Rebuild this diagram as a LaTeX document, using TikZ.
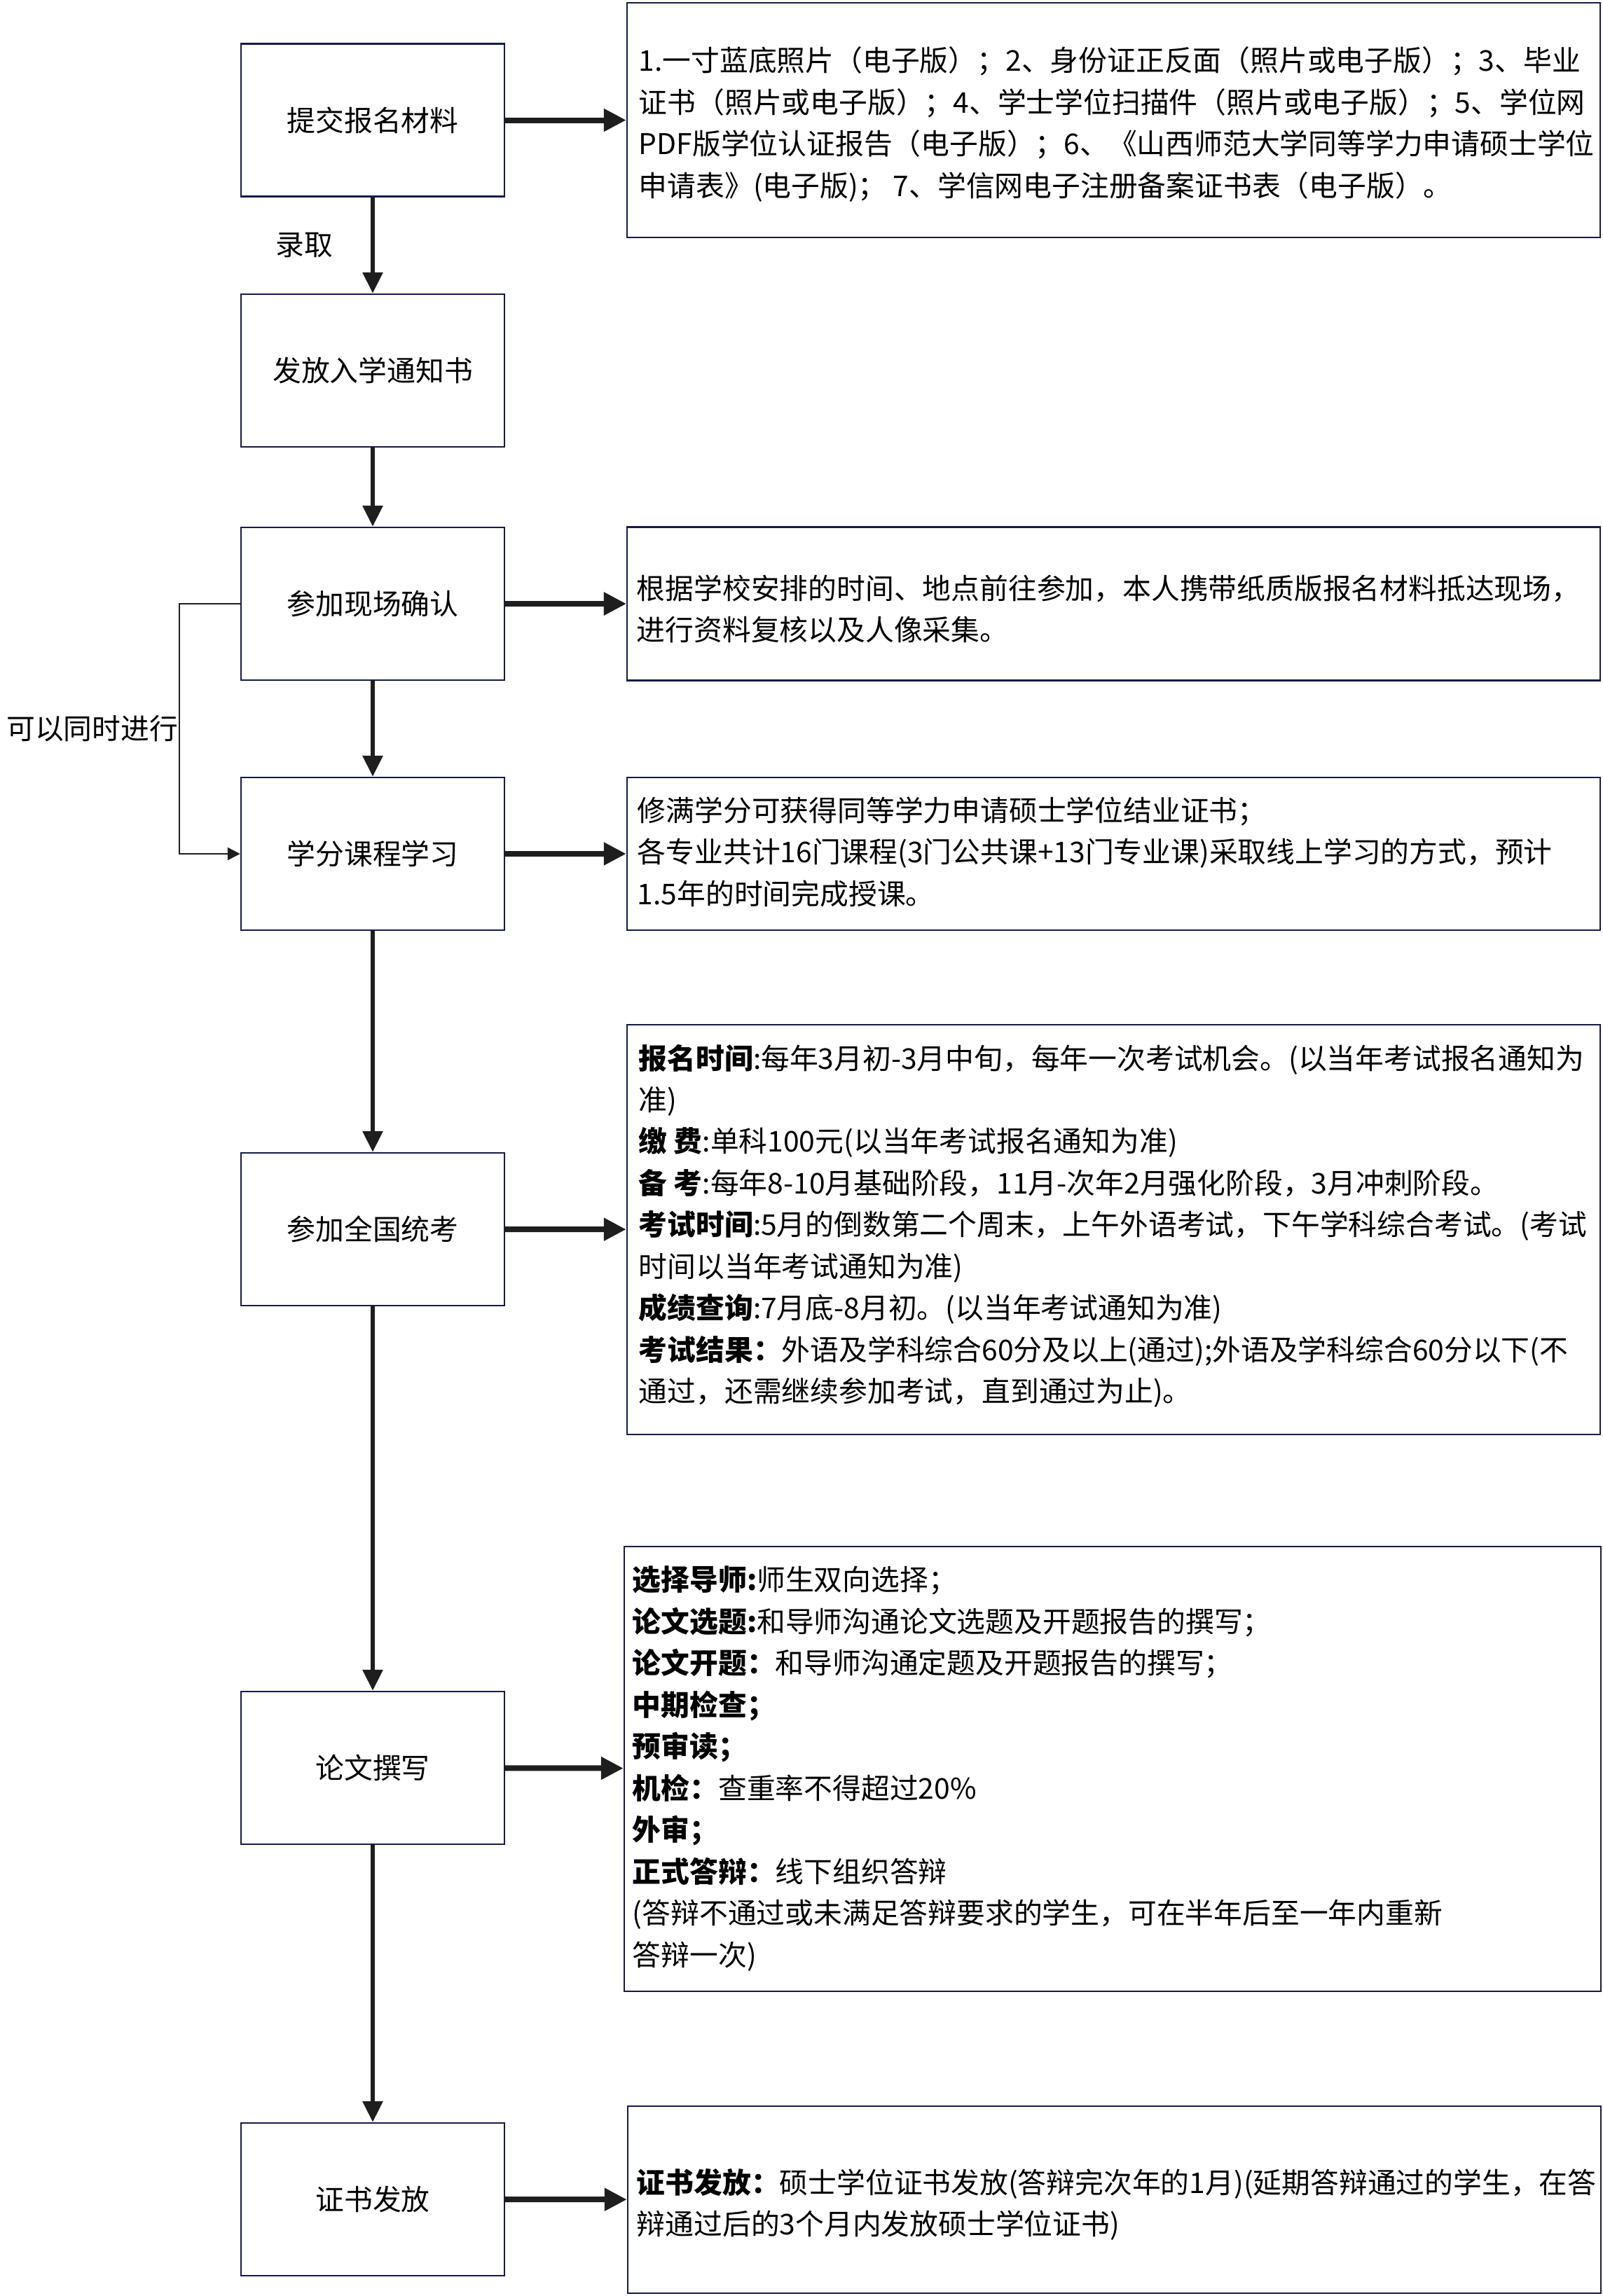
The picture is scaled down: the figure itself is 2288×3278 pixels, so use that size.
\documentclass[tikz,border=0pt]{standalone}
\usepackage{fontspec}
\setmainfont{Noto Sans CJK SC}
\usetikzlibrary{arrows.meta}
\definecolor{boxline}{RGB}{22,26,70}
\definecolor{arrowc}{RGB}{30,30,30}
\begin{document}
\begin{tikzpicture}[x=0.25pt,y=-0.25pt,
  lbox/.style={draw=boxline, line width=0.6pt, minimum width=94pt, minimum height=54.5pt, inner sep=0pt, font=\fontsize{10.2pt}{14.875pt}\selectfont},
  rbox/.style={draw=boxline, line width=0.6pt, inner sep=0pt},
  rtext/.style={anchor=north west, inner sep=0pt, align=left, font=\fontsize{10.2pt}{14.875pt}\selectfont},
  down/.style={draw=arrowc, line width=1.5pt, -{Triangle[length=7.5pt,width=7pt]}},
  side/.style={draw=arrowc, line width=2pt, -{Triangle[length=8pt,width=7.75pt]}},
  thin/.style={draw=arrowc, line width=0.6pt, -{Triangle[length=4.5pt,width=4.5pt]}},
  lbl/.style={inner sep=0pt, font=\fontsize{10.2pt}{14.875pt}\selectfont}
]
\useasboundingbox (0,0) rectangle (2288,3278);

% left boxes
\node[lbox] (b1) at (532,171.5) {提交报名材料};
\node[lbox] (b2) at (532,529) {发放入学通知书};
\node[lbox] (b3) at (532,862) {参加现场确认};
\node[lbox] (b4) at (532,1219) {学分课程学习};
\node[lbox] (b5) at (532,1755) {参加全国统考};
\node[lbox] (b6) at (532,2524) {论文撰写};
\node[lbox] (b7) at (532,3140) {证书发放};

% right boxes
\node[rbox, minimum width=347.25pt, minimum height=83.75pt] (r1) at (1589.5,171.5) {};
\node[rbox, minimum width=347.25pt, minimum height=54.75pt] (r2) at (1589.5,862) {};
\node[rbox, minimum width=347.25pt, minimum height=54.5pt] (r3) at (1589.5,1219) {};
\node[rbox, minimum width=347.25pt, minimum height=146.25pt] (r4) at (1589.5,1755.5) {};
\node[rbox, minimum width=348.5pt, minimum height=158.75pt] (r5) at (1588,2525.5) {};
\node[rbox, minimum width=347.25pt, minimum height=66.75pt] (r6) at (1590.5,3140.5) {};

% texts
\node[rtext] (t1) at (911,66) {1.一寸蓝底照片（电子版）；2、身份证正反面（照片或电子版）；3、毕业\\
证书（照片或电子版）；4、学士学位扫描件（照片或电子版）；5、学位网\\
PDF版学位认证报告（电子版）；6、《山西师范大学同等学力申请硕士学位\\
申请表》(电子版)； 7、学信网电子注册备案证书表（电子版）。};

\node[rtext] (t2) at (908,820) {根据学校安排的时间、地点前往参加，本人携带纸质版报名材料抵达现场，\\
进行资料复核以及人像采集。};

\node[rtext] (t3) at (909,1137) {修满学分可获得同等学力申请硕士学位结业证书；\\
各专业共计16门课程(3门公共课+13门专业课)采取线上学习的方式，预计\\
1.5年的时间完成授课。};

\node[rtext] (t4) at (911,1490) {\textbf{报名时间}:每年3月初-3月中旬，每年一次考试机会。(以当年考试报名通知为\\
准)\\
\textbf{缴 费}:单科100元(以当年考试报名通知为准)\\
\textbf{备 考}:每年8-10月基础阶段，11月-次年2月强化阶段，3月冲刺阶段。\\
\textbf{考试时间}:5月的倒数第二个周末，上午外语考试，下午学科综合考试。(考试\\
时间以当年考试通知为准)\\
\textbf{成绩查询}:7月底-8月初。(以当年考试通知为准)\\
\textbf{考试结果：}外语及学科综合60分及以上(通过);外语及学科综合60分以下(不\\
通过，还需继续参加考试，直到通过为止)。};

\node[rtext] (t5) at (902,2235) {\textbf{选择导师:}师生双向选择；\\
\textbf{论文选题:}和导师沟通论文选题及开题报告的撰写；\\
\textbf{论文开题：}和导师沟通定题及开题报告的撰写；\\
\textbf{中期检查；}\\
\textbf{预审读；}\\
\textbf{机检：}查重率不得超过20\%\\
\textbf{外审；}\\
\textbf{正式答辩：}线下组织答辩\\
(答辩不通过或未满足答辩要求的学生，可在半年后至一年内重新\\
答辩一次)};

\node[rtext] (t6) at (908,3095) {\textbf{证书发放：}硕士学位证书发放(答辩完次年的1月)(延期答辩通过的学生，在答\\
辩通过后的3个月内发放硕士学位证书)};

% vertical arrows
\draw[down] (b1) -- node[lbl, left=13.5pt] {录取} (b2);
\draw[down] (b2) -- (b3);
\draw[down] (b3) -- (b4);
\draw[down] (b4) -- (b5);
\draw[down] (b5) -- (b6);
\draw[down] (b6) -- (b7);

% side arrows
\draw[side] (b1) -- (r1);
\draw[side] (b2.east |- r2) -- (r2);
\draw[side] (b3) -- (r3.west |- b3);
\draw[side] (b4) -- (r3);
\draw[side] (b5) -- (r4);
\draw[side] (b6) -- (r5);
\draw[side] (b7) -- (r6);

% parallel connector
\coordinate (c1) at (256,862);
\draw[thin] (b3.west) -- (c1) |- (b4.west);
\node[lbl, anchor=east] (par) at (255,1040) {可以同时进行};
\end{tikzpicture}
\end{document}
